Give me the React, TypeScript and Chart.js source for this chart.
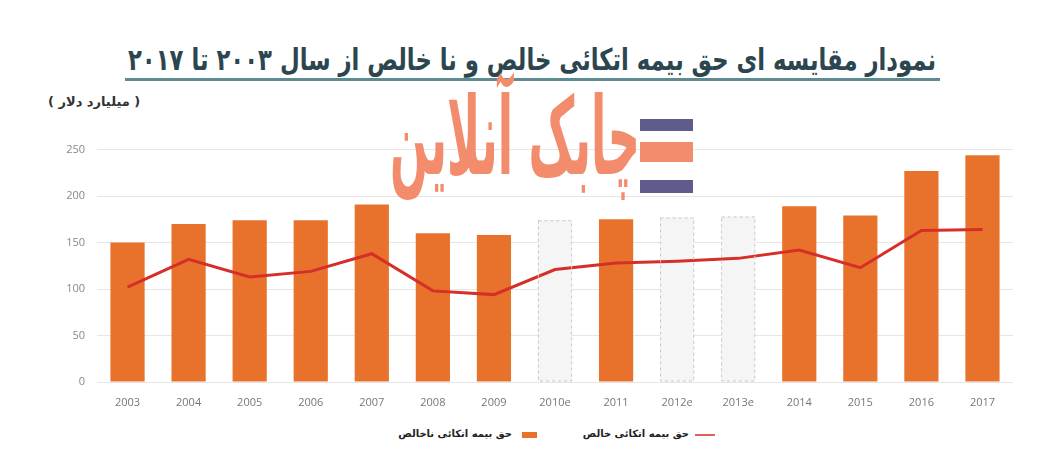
import React, { useEffect, useRef } from "react";
import Chart from "chart.js/auto";

const years = ["2003", "2004", "2005", "2006", "2007", "2008", "2009", "2010e", "2011", "2012e", "2013e", "2014", "2015", "2016", "2017"];
const grossPremium = [150, 170, 174, 174, 191, 160, 158, 174, 175, 177, 178, 189, 179, 227, 244];
const netPremium = [102, 132, 113, 119, 138, 98, 94, 121, 128, 130, 133, 142, 123, 163, 164];
const estimated = [false, false, false, false, false, false, false, true, false, true, true, false, false, false, false];
const yTicks = [0, 50, 100, 150, 200, 250];

const ORANGE = "#e8722b";
const RED = "#d52f29";
const FA = "'DejaVu Sans', sans-serif";

// dashed outline around the estimated (ghost) bars
const dashedGhosts = {
    id: "dashedGhosts",
    afterDatasetsDraw(chart: any) {
        const meta = chart.getDatasetMeta(1);
        const ctx = chart.ctx;
        ctx.save();
        ctx.setLineDash([3, 3]);
        ctx.strokeStyle = "#c8c8c8";
        ctx.lineWidth = 1;
        meta.data.forEach((bar: any, i: number) => {
            if (!estimated[i]) return;
            const { x, y, base, width } = bar.getProps(["x", "y", "base", "width"], true);
            ctx.strokeRect(x - width / 2 + 0.5, y + 0.5, width - 1, base - y - 1);
        });
        ctx.restore();
    },
};

// centred, stretched text block (the source uses a condensed Persian face)
function Stretched(props: { cx: number; cy: number; sx: number; sy: number; style: any; children: any }) {
    return (
        <div style={{ position: "absolute", left: props.cx, top: props.cy, width: 0, height: 0, transform: `scale(${props.sx}, ${props.sy})`, transformOrigin: "0 0" }}>
            <div dir="rtl" style={{ position: "absolute", left: 0, top: 0, transform: "translate(-50%, -50%)", whiteSpace: "nowrap", lineHeight: 1, ...props.style }}>
                {props.children}
            </div>
        </div>
    );
}

export default function App() {
    const chartRef = useRef<HTMLCanvasElement | null>(null);

    useEffect(() => {
        if (!chartRef.current) return;
        document.body.style.margin = "0";

        const config: any = {
            data: {
                labels: years,
                datasets: [
                    {
                        type: "line",
                        label: "حق بیمه اتکائی خالص",
                        data: netPremium,
                        borderColor: RED,
                        borderWidth: 3,
                        pointRadius: 0,
                        tension: 0,
                        order: 0,
                    },
                    {
                        type: "bar",
                        label: "حق بیمه اتکائی ناخالص",
                        data: grossPremium,
                        backgroundColor: estimated.map((e) => (e ? "#f5f5f5" : ORANGE)),
                        borderWidth: 0,
                        barPercentage: 0.56,
                        categoryPercentage: 1,
                        order: 1,
                    },
                ],
            },
            options: {
                animation: false,
                responsive: false,
                maintainAspectRatio: false,
                layout: { padding: { top: 0, right: 27, left: 0, bottom: 0 } },
                plugins: {
                    legend: { display: false },
                    tooltip: { enabled: false },
                },
                scales: {
                    x: {
                        grid: { display: false },
                        border: { display: false },
                        ticks: { color: "#777", font: { family: "'Open Sans', sans-serif", size: 11 }, padding: 6, maxRotation: 0 },
                        afterFit: (s: any) => { s.height = 30; },
                    },
                    y: {
                        min: 0,
                        max: 250,
                        afterBuildTicks: (s: any) => { s.ticks = yTicks.map((v) => ({ value: v })); },
                        grid: { color: "#e6e6e6", drawTicks: false },
                        border: { display: false },
                        ticks: { color: "#888", font: { family: "'Open Sans', sans-serif", size: 11 }, padding: 12 },
                        afterFit: (s: any) => { s.width = 97; },
                    },
                },
            },
            plugins: [dashedGhosts],
        };

        const chart = new Chart(chartRef.current.getContext("2d") as any, config);
        return () => {
            if (chart) chart.destroy();
        };
    }, [chartRef]);

    return (
        <div style={{ position: "absolute", left: 0, top: 0, width: 1040, height: 470, background: "#fff", overflow: "hidden" }}>
            <Stretched cx={532} cy={60} sx={0.91} sy={1.2} style={{ fontFamily: FA, fontWeight: "bold", fontSize: 25, color: "#2c4650" }}>
                نمودار مقایسه ای حق بیمه اتکائی خالص و نا خالص از سال ۲۰۰۳ تا ۲۰۱۷
            </Stretched>
            <div style={{ position: "absolute", left: 125, top: 78, width: 815, height: 3, background: "#5e8a92" }} />
            <div dir="rtl" style={{ position: "absolute", left: 48, top: 94, fontFamily: FA, fontWeight: "bold", fontSize: 13, color: "#333", whiteSpace: "nowrap" }}>
                ( میلیارد دلار )
            </div>

            <canvas ref={chartRef} width={1040} height={281} style={{ position: "absolute", left: 0, top: 131, width: 1040, height: 281 }}></canvas>

            {/* watermark logo */}
            <Stretched cx={515} cy={137} sx={0.77} sy={1.85} style={{ fontFamily: FA, fontWeight: "bold", fontSize: 58, color: "#f38c6c" }}>
                چابک آنلاین
            </Stretched>
            <div style={{ position: "absolute", left: 640, top: 119, width: 53, height: 12, background: "#5f5c8c" }} />
            <div style={{ position: "absolute", left: 640, top: 142, width: 53, height: 20, background: "#f38c6c" }} />
            <div style={{ position: "absolute", left: 640, top: 180, width: 53, height: 13, background: "#5f5c8c" }} />

            {/* legend */}
            <div style={{ position: "absolute", left: 522, top: 432, width: 15, height: 6, background: ORANGE }} />
            <div dir="rtl" style={{ position: "absolute", right: 1040 - 512, top: 428, fontFamily: FA, fontWeight: "bold", fontSize: 10, color: "#222", whiteSpace: "nowrap" }}>
                حق بیمه اتکائی ناخالص
            </div>
            <div style={{ position: "absolute", left: 695, top: 434, width: 20, height: 2, background: "#e0605c" }} />
            <div dir="rtl" style={{ position: "absolute", right: 1040 - 689, top: 428, fontFamily: FA, fontWeight: "bold", fontSize: 10, color: "#222", whiteSpace: "nowrap" }}>
                حق بیمه اتکائی خالص
            </div>
        </div>
    );
}
